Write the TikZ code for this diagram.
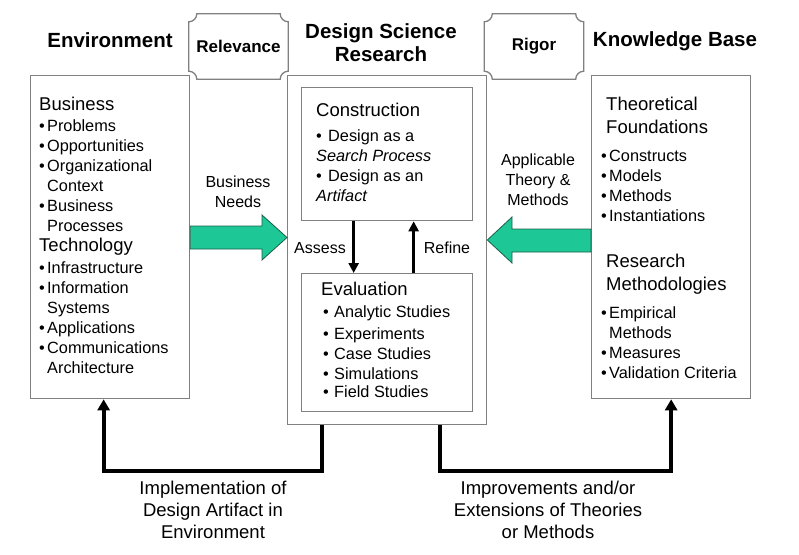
\documentclass[tikz,border=0pt]{standalone}
\usepackage{fontspec}
\setmainfont{Liberation Sans}
\usetikzlibrary{arrows.meta}

\definecolor{boxgray}{RGB}{128,128,128}
\definecolor{needgreen}{RGB}{30,200,150}
\definecolor{neededge}{RGB}{25,95,75}

\newcommand{\bl}[1][8pt]{\makebox[#1][l]{\textbullet}}
\newcommand{\ind}{\hspace*{8pt}}
\newcommand{\head}[1]{{\fontsize{18.5}{20}\selectfont #1}}
% plaque with concave corners round a node
\newcommand{\plaque}[1]{%
\draw[panel] ([xshift=8pt]#1.north west) -- ([xshift=-8pt]#1.north east)
  .. controls ([xshift=-8pt,yshift=-4.4pt]#1.north east) and ([xshift=-4.4pt,yshift=-8pt]#1.north east) .. ([yshift=-8pt]#1.north east)
  -- ([yshift=8pt]#1.south east)
  .. controls ([xshift=-4.4pt,yshift=8pt]#1.south east) and ([xshift=-8pt,yshift=4.4pt]#1.south east) .. ([xshift=-8pt]#1.south east)
  -- ([xshift=8pt]#1.south west)
  .. controls ([xshift=8pt,yshift=4.4pt]#1.south west) and ([xshift=4.4pt,yshift=8pt]#1.south west) .. ([yshift=8pt]#1.south west)
  -- ([yshift=-8pt]#1.north west)
  .. controls ([xshift=4.4pt,yshift=-8pt]#1.north west) and ([xshift=8pt,yshift=-4.4pt]#1.north west) .. cycle;}

\begin{document}
\begin{tikzpicture}[x=1pt, y=-1pt, font=\fontsize{16.3}{20}\selectfont,
  panel/.style={draw=boxgray, line width=1.3pt},
  box/.style={panel, anchor=north west, inner sep=0pt},
  title/.style={align=center, font=\fontsize{20.5}{23}\selectfont\bfseries},
  tag/.style={inner sep=0pt, minimum width=99pt, minimum height=65pt, font=\fontsize{17}{20}\selectfont\bfseries},
  label/.style={align=center, font=\fontsize{16}{20}\selectfont},
  biglabel/.style={align=center, font=\fontsize{18.5}{22}\selectfont},
  listtext/.style={align=left, anchor=north west, inner sep=0pt},
  fat/.style={fill=needgreen, draw=neededge, line width=0.8pt, line join=miter},
  flow/.style={line width=3pt, -{Triangle[length=10pt,width=10pt]}},
  loop/.style={line width=3.8pt, -{Triangle[length=11pt,width=12pt]}}
]
\useasboundingbox (0,0) rectangle (799,554);

% titles
\node[title] (envtitle) at (110,40) {Environment};
\node[title] (dsrtitle) at (381,43) {Design Science\\Research};
\node[title] (kbtitle) at (675,41) {Knowledge Base};

% boxes
\node[box, minimum width=159pt, minimum height=323pt] (env) at (30,75) {};
\node[box, minimum width=199pt, minimum height=349pt] (dsr) at (287,75) {};
\node[box, minimum width=171pt, minimum height=133pt] (cons) at (301,87) {};
\node[box, minimum width=171pt, minimum height=138pt] (eval) at (301,273) {};
\node[box, minimum width=159pt, minimum height=323pt] (kb) at (591,75) {};

% relevance and rigor
\node[tag] (relevance) at (238.5,46.5) {Relevance};
\plaque{relevance}
\node[tag] (rigor) at (534,46.5) {Rigor};
\plaque{rigor}

% box contents
\node[listtext] (envlist) at (39,97) {\head{Business}\\[1pt]
\bl Problems\\
\bl Opportunities\\
\bl Organizational\\
\ind Context\\
\bl Business\\
\ind Processes\\
\head{Technology}\\[2pt]
\bl Infrastructure\\
\bl Information\\
\ind Systems\\
\bl Applications\\
\bl Communications\\
\ind Architecture};

\node[listtext] (conslist) at (316,103) {\head{Construction}\\[5pt]
\bl[12pt]Design as a\\
\textit{Search Process}\\
\bl[12pt]Design as an\\
\textit{Artifact}};

\node[listtext] (evallist) at (321,282) {\head{Evaluation}\\[2pt]
\hspace*{2pt}\bl[11pt]Analytic Studies\\[2pt]
\hspace*{2pt}\bl[11pt]Experiments\\
\hspace*{2pt}\bl[11pt]Case Studies\\
\hspace*{2pt}\bl[11pt]Simulations\\[-2pt]
\hspace*{2pt}\bl[11pt]Field Studies};

\node[listtext] (kblist) at (601,97) {\hspace*{5pt}\head{Theoretical}\\[2.5pt]
\hspace*{5pt}\head{Foundations}\\[8pt]
\bl Constructs\\
\bl Models\\
\bl Methods\\
\bl Instantiations\\[26pt]
\hspace*{5pt}\head{Research}\\[3pt]
\hspace*{5pt}\head{Methodologies}\\[8pt]
\bl Empirical\\
\ind Methods\\
\bl Measures\\
\bl Validation Criteria};

% green arrows
\fill[fat] (env.east |- 0,226) -- (262,226) -- (262,215) -- (dsr.west |- 0,237.5)
  -- (262,260) -- (262,249) -- (env.east |- 0,249) -- cycle;
\fill[fat] (kb.west |- 0,229) -- (512,229) -- (512,217) -- (dsr.east |- 0,240)
  -- (512,263) -- (512,252) -- (kb.west |- 0,252) -- cycle;
\node[label] (needs) at (238,192) {Business\\Needs};
\node[label] (theory) at (538,180) {Applicable\\Theory \&\\Methods};

% assess / refine
\draw[flow] ([xshift=-33.5pt]cons.south) -- ([xshift=-33.5pt]eval.north);
\draw[flow] ([xshift=26.5pt]eval.north) -- ([xshift=26.5pt]cons.south);
\node[label] (assess) at (320,248) {Assess};
\node[label] (refine) at (447,248) {Refine};

% feedback to the environment and the knowledge base
\draw[loop] ([xshift=-65.5pt]dsr.south) -- ++(0,46) -| ([xshift=-6.5pt]env.south);
\draw[loop] ([xshift=52.5pt]dsr.south) -- ++(0,46) -| (kb.south);
\node[biglabel] (implement) at (213,510) {Implementation of\\Design Artifact in\\Environment};
\node[biglabel] (improve) at (548,510) {Improvements and/or\\Extensions of Theories\\or Methods};
\end{tikzpicture}
\end{document}
